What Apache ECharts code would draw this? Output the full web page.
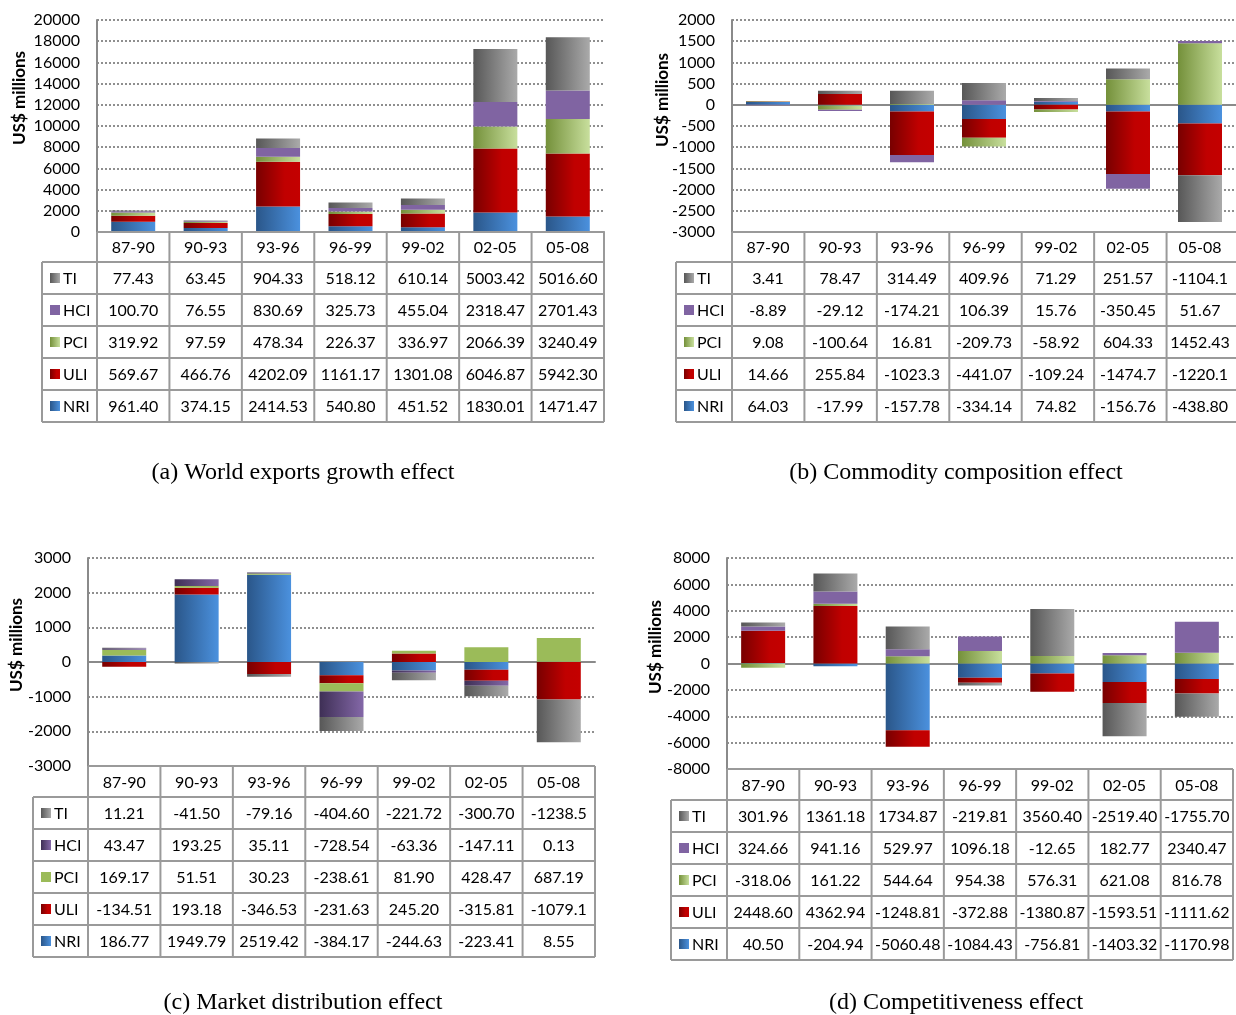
<!DOCTYPE html>
<html>
<head>
<meta charset="utf-8">
<script src="https://cdn.jsdelivr.net/npm/echarts@6/dist/echarts.min.js"></script>
<style>
  html, body { margin: 0; padding: 0; background: #fff; }
  #chart { width: 1236px; height: 1015px; }
</style>
</head>
<body>
<div id="chart"></div>
<script>
// Sub-periods shared by all four decompositions
const periods = ['87-90', '90-93', '93-96', '96-99', '99-02', '02-05', '05-08'];
// Table row order (top to bottom); bars stack in reverse (NRI at the bottom)
const rowNames = ['TI', 'HCI', 'PCI', 'ULI', 'NRI'];

// (a) World exports growth effect, US$ millions
const worldTI  = ['77.43', '63.45', '904.33', '518.12', '610.14', '5003.42', '5016.60'];
const worldHCI = ['100.70', '76.55', '830.69', '325.73', '455.04', '2318.47', '2701.43'];
const worldPCI = ['319.92', '97.59', '478.34', '226.37', '336.97', '2066.39', '3240.49'];
const worldULI = ['569.67', '466.76', '4202.09', '1161.17', '1301.08', '6046.87', '5942.30'];
const worldNRI = ['961.40', '374.15', '2414.53', '540.80', '451.52', '1830.01', '1471.47'];

// (b) Commodity composition effect
const commodityTI  = ['3.41', '78.47', '314.49', '409.96', '71.29', '251.57', '-1104.1'];
const commodityHCI = ['-8.89', '-29.12', '-174.21', '106.39', '15.76', '-350.45', '51.67'];
const commodityPCI = ['9.08', '-100.64', '16.81', '-209.73', '-58.92', '604.33', '1452.43'];
const commodityULI = ['14.66', '255.84', '-1023.3', '-441.07', '-109.24', '-1474.7', '-1220.1'];
const commodityNRI = ['64.03', '-17.99', '-157.78', '-334.14', '74.82', '-156.76', '-438.80'];

// (c) Market distribution effect
const marketTI  = ['11.21', '-41.50', '-79.16', '-404.60', '-221.72', '-300.70', '-1238.5'];
const marketHCI = ['43.47', '193.25', '35.11', '-728.54', '-63.36', '-147.11', '0.13'];
const marketPCI = ['169.17', '51.51', '30.23', '-238.61', '81.90', '428.47', '687.19'];
const marketULI = ['-134.51', '193.18', '-346.53', '-231.63', '245.20', '-315.81', '-1079.1'];
const marketNRI = ['186.77', '1949.79', '2519.42', '-384.17', '-244.63', '-223.41', '8.55'];

// (d) Competitiveness effect
const competTI  = ['301.96', '1361.18', '1734.87', '-219.81', '3560.40', '-2519.40', '-1755.70'];
const competHCI = ['324.66', '941.16', '529.97', '1096.18', '-12.65', '182.77', '2340.47'];
const competPCI = ['-318.06', '161.22', '544.64', '954.38', '576.31', '621.08', '816.78'];
const competULI = ['2448.60', '4362.94', '-1248.81', '-372.88', '-1380.87', '-1593.51', '-1111.62'];
const competNRI = ['40.50', '-204.94', '-5060.48', '-1084.43', '-756.81', '-1403.32', '-1170.98'];

// Value axis ranges
const axisA = { min: 0, max: 20000, interval: 2000 };
const axisB = { min: -3000, max: 2000, interval: 500 };
const axisC = { min: -3000, max: 3000, interval: 1000 };
const axisD = { min: -8000, max: 8000, interval: 2000 };

const captions = [
  '(a) World exports growth effect',
  '(b) Commodity composition effect',
  '(c) Market distribution effect',
  '(d) Competitiveness effect'
];

const panelData = [
  { TI: worldTI, HCI: worldHCI, PCI: worldPCI, ULI: worldULI, NRI: worldNRI },
  { TI: commodityTI, HCI: commodityHCI, PCI: commodityPCI, ULI: commodityULI, NRI: commodityNRI },
  { TI: marketTI, HCI: marketHCI, PCI: marketPCI, ULI: marketULI, NRI: marketNRI },
  { TI: competTI, HCI: competHCI, PCI: competPCI, ULI: competULI, NRI: competNRI }
];
const panelAxes = [axisA, axisB, axisC, axisD];

// Page layout for each panel: plot rectangle, table rows, caption and axis title
const layout = [
  { grid: { left: 97, top: 20, width: 507, height: 212 }, headerH: 30, rowH: 32, legendLeft: 42,
    caption: [303, 473], title: [20, 98], style: 'std' },
  { grid: { left: 732, top: 20, width: 507, height: 212 }, headerH: 30, rowH: 32, legendLeft: 676,
    caption: [956, 473], title: [663, 100], style: 'std' },
  { grid: { left: 88, top: 558, width: 507, height: 208 }, headerH: 31, rowH: 32, legendLeft: 33,
    caption: [303, 1003], title: [17, 645], style: 'alt' },
  { grid: { left: 727, top: 558, width: 506, height: 211 }, headerH: 31, rowH: 32, legendLeft: 671,
    caption: [956, 1003], title: [656, 647], style: 'std' }
];

const FONT = 'Lato, "Open Sans", sans-serif';
const LINE = '#9a9a9a';

function hGrad(stops) {
  return new echarts.graphic.LinearGradient(0, 0, 1, 0,
    stops.map(function (s) { return { offset: s[0], color: s[1] }; }));
}

function fills(style) {
  const f = {
    TI: hGrad([[0, '#575757'], [1, '#aaaaaa']]),
    HCI: '#8064A2',
    PCI: hGrad([[0, '#74903a'], [1, '#c8df9d']]),
    ULI: hGrad([[0, '#780000'], [0.65, '#c00000'], [1, '#c40000']]),
    NRI: hGrad([[0, '#2a5689'], [1, '#4b91de']])
  };
  if (style === 'alt') {
    f.HCI = hGrad([[0, '#3e2f55'], [1, '#8468a8']]);
    f.PCI = '#9BBB59';
  }
  return f;
}

const chart = echarts.init(document.getElementById('chart'), null, { renderer: 'canvas' });

const grids = [], xAxes = [], yAxes = [], series = [];
layout.forEach(function (L, i) {
  grids.push(Object.assign({ containLabel: false }, L.grid));
  xAxes.push({
    gridIndex: i, type: 'category', data: periods,
    axisLine: { onZero: true, lineStyle: { color: '#8a8a8a', width: 2 } },
    axisTick: { show: false }, axisLabel: { show: false }, splitLine: { show: false }
  });
  const ax = panelAxes[i];
  yAxes.push({
    gridIndex: i, type: 'value', min: ax.min, max: ax.max, interval: ax.interval,
    axisLine: { show: true, onZero: false, lineStyle: { color: '#8a8a8a', width: 2 } },
    axisTick: { show: false },
    axisLabel: { color: '#000', fontSize: 16, fontFamily: FONT, margin: 17,
      formatter: function (v) { return String(v); } },
    splitLine: { show: true, lineStyle: { color: '#8f8f8f', width: 2, type: [2, 2] } }
  });
  const f = fills(L.style);
  ['NRI', 'ULI', 'PCI', 'HCI', 'TI'].forEach(function (name) {
    series.push({
      name: name, type: 'bar', xAxisIndex: i, yAxisIndex: i, stack: 'panel' + i,
      barWidth: 44, itemStyle: { color: f[name] },
      data: panelData[i][name].map(parseFloat), silent: true, animation: false
    });
  });
});

chart.setOption({
  animation: false,
  backgroundColor: '#fff',
  grid: grids, xAxis: xAxes, yAxis: yAxes, series: series
});

// Data tables, axis titles and captions placed from each grid's geometry
const elements = [];
function hLine(x1, x2, y) {
  elements.push({ type: 'line', silent: true, z: 50,
    shape: { x1: x1, y1: y, x2: x2, y2: y }, style: { stroke: LINE, lineWidth: 2 } });
}
function vLine(x, y1, y2) {
  elements.push({ type: 'line', silent: true, z: 50,
    shape: { x1: x, y1: y1, x2: x, y2: y2 }, style: { stroke: LINE, lineWidth: 2 } });
}
function label(text, x, y, opts) {
  elements.push({ type: 'text', silent: true, z: 60, x: x, y: y, rotation: (opts && opts.rotation) || 0,
    style: Object.assign({ text: text, fill: '#000', font: '16px ' + FONT,
      textAlign: 'center', textVerticalAlign: 'middle' }, (opts && opts.style) || {}) });
}

layout.forEach(function (L, i) {
  const g = L.grid;
  const colW = g.width / periods.length;
  const headTop = g.top + g.height;
  const headBot = headTop + L.headerH;
  const tableBot = headBot + L.rowH * rowNames.length;
  const right = g.left + g.width;
  const f = fills(L.style);

  // borders
  hLine(g.left, right, headTop);
  hLine(L.legendLeft, right, headBot);
  rowNames.forEach(function (_, r) { hLine(L.legendLeft, right, headBot + L.rowH * (r + 1)); });
  for (let k = 0; k <= periods.length; k++) vLine(g.left + k * colW, headTop, tableBot);
  vLine(L.legendLeft, headBot, tableBot);

  // header row
  periods.forEach(function (p) {
    const cx = chart.convertToPixel({ xAxisIndex: i }, p);
    label(p, cx, headTop + L.headerH / 2 + 1);
  });

  // value rows with legend keys
  rowNames.forEach(function (name, r) {
    const cy = headBot + L.rowH * r + L.rowH / 2 + 1;
    elements.push({ type: 'rect', silent: true, z: 60,
      shape: { x: L.legendLeft + 8, y: cy - 6, width: 10, height: 10 }, style: { fill: f[name] } });
    label(name, L.legendLeft + 21, cy, { style: { textAlign: 'left' } });
    panelData[i][name].forEach(function (v, k) {
      const cx = chart.convertToPixel({ xAxisIndex: i }, periods[k]);
      label(v, cx, cy);
    });
  });

  // axis title
  label('US$ millions', L.title[0], L.title[1], {
    rotation: Math.PI / 2, style: { font: 'bold 17px ' + FONT }
  });

  // caption
  label(captions[i], L.caption[0], L.caption[1], {
    style: { font: '24px "Liberation Serif", "Times New Roman", serif' }
  });
});

chart.setOption({ graphic: { elements: elements } });
</script>
</body>
</html>
